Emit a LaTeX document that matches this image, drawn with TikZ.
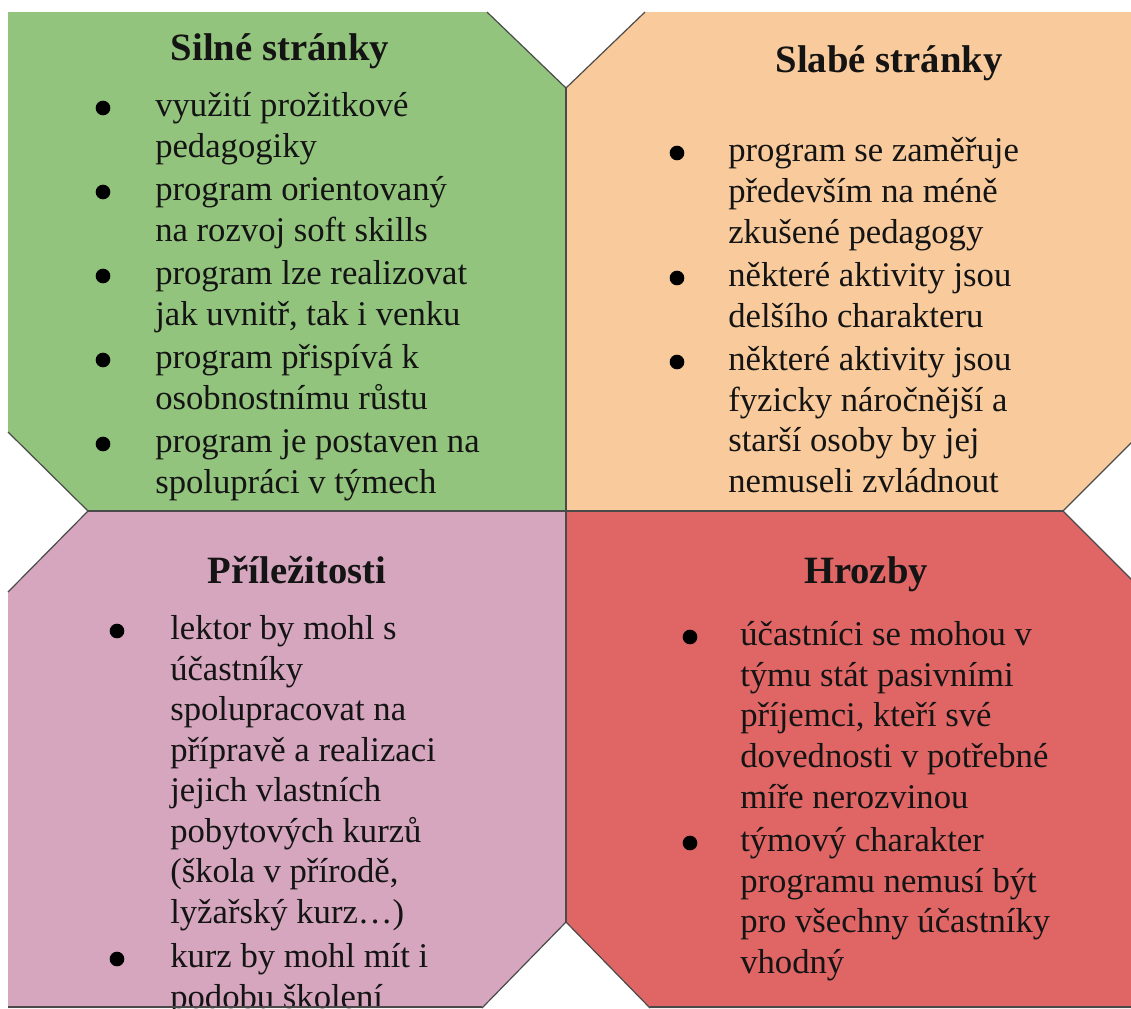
\documentclass[tikz,border=0pt]{standalone}
\usepackage{fontspec}
\setmainfont{Liberation Serif}
\definecolor{cgreen}{HTML}{93C47D}
\definecolor{corange}{HTML}{F9CB9C}
\definecolor{cpink}{HTML}{D5A6BD}
\definecolor{cred}{HTML}{E06666}
\definecolor{edgegray}{HTML}{4A4A4A}
\definecolor{ink}{HTML}{141414}
\begin{document}
\begin{tikzpicture}[x=0.75pt,y=-0.75pt,
  edge/.style={draw=edgegray,line width=0.9pt,line join=miter},
  ttl/.style={font=\fontsize{29}{34}\selectfont\bfseries,anchor=base,inner sep=0pt,text=ink},
  itm/.style={font=\fontsize{26}{30.4}\selectfont,anchor=base west,align=left,inner sep=0pt,text=ink},
  bul/.style={circle,fill=black,minimum size=11pt,inner sep=0pt}]
\useasboundingbox (0,0) rectangle (1131,1008);
% quadrants
\fill[cgreen] (8,12) -- (487,12) -- (566,88) -- (566,511) -- (88,511) -- (8,432) -- cycle;
\fill[corange] (645,12) -- (1141,12) -- (1141,433) -- (1063,511) -- (566,511) -- (566,88) -- cycle;
\fill[cpink] (8,592) -- (88,511) -- (566,511) -- (566,922) -- (482,1008) -- (8,1008) -- cycle;
\fill[cred] (566,511) -- (1063,511) -- (1141,589) -- (1141,1008) -- (650,1008) -- (566,922) -- cycle;
% titles
\node[ttl] (tS) at (280,60) {Silné stránky};
\node[ttl] (tW) at (889,72) {Slabé stránky};
\node[ttl] (tO) at (297,583) {Příležitosti};
\node[ttl] (tT) at (866,583) {Hrozby};
% strengths (node placed at baseline of last line)
\node[bul] (bS1) at (103,108) {};
\node[itm] (S1) at (155,157.5) {využití prožitkové\\pedagogiky};
\node[bul] (bS2) at (103,192) {};
\node[itm] (S2) at (155,241.5) {program orientovaný\\na rozvoj soft skills};
\node[bul] (bS3) at (103,276) {};
\node[itm] (S3) at (155,325.5) {program lze realizovat\\jak uvnitř, tak i venku};
\node[bul] (bS4) at (103,360) {};
\node[itm] (S4) at (155,409.5) {program přispívá k\\osobnostnímu růstu};
\node[bul] (bS5) at (103,444) {};
\node[itm] (S5) at (155,493.5) {program je postaven na\\spolupráci v týmech};
% weaknesses
\node[bul] (bW1) at (677,153) {};
\node[itm] (W1) at (728,243) {program se zaměřuje\\především na méně\\zkušené pedagogy};
\node[bul] (bW2) at (677,278) {};
\node[itm] (W2) at (728,327.5) {některé aktivity jsou\\delšího charakteru};
\node[bul] (bW3) at (677,362) {};
\node[itm] (W3) at (728,492.5) {některé aktivity jsou\\fyzicky náročnější a\\starší osoby by jej\\nemuseli zvládnout};
% opportunities
\node[bul] (bO1) at (117,631) {};
\node[itm] (O1) at (170,923.5) {lektor by mohl s\\účastníky\\spolupracovat na\\přípravě a realizaci\\jejich vlastních\\pobytových kurzů\\(škola v přírodě,\\lyžařský kurz…)};
\node[bul] (bO2) at (117,959) {};
\node[itm] (O2) at (170,1008.5) {kurz by mohl mít i\\podobu školení};
% threats
\node[bul] (bT1) at (690,637) {};
\node[itm] (T1) at (740,808) {účastníci se mohou v\\týmu stát pasivními\\příjemci, kteří své\\dovednosti v potřebné\\míře nerozvinou};
\node[bul] (bT2) at (690,843) {};
\node[itm] (T2) at (740,973.5) {týmový charakter\\programu nemusí být\\pro všechny účastníky\\vhodný};
% edges
\draw[edge] (487,12) -- (566,88) -- (645,12);
\draw[edge] (8,432) -- (88,511) -- (8,592);
\draw[edge] (1141,433) -- (1063,511) -- (1141,589);
\draw[edge] (482,1008) -- (566,922) -- (650,1008);
\draw[edge] (566,88) -- (566,922);
\draw[edge] (88,511) -- (1063,511);
\draw[edge,line width=1.8pt] (8,1007) -- (482,1007);
\draw[edge,line width=1.8pt] (650,1007) -- (1141,1007);
\end{tikzpicture}
\end{document}
